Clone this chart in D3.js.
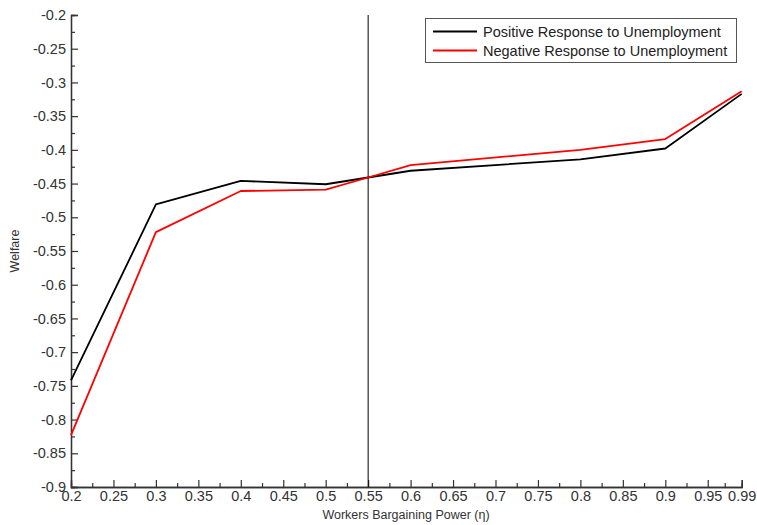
<!DOCTYPE html>
<html><head><meta charset="utf-8">
<script src="https://cdn.jsdelivr.net/npm/d3@7"></script>
<style>body{margin:0;background:#fff}svg{display:block}text{font-family:"Liberation Sans",Arial,sans-serif}</style>
</head><body>
<svg id="c" width="757" height="525"></svg>
<script>
const xVals = [0.2, 0.3, 0.4, 0.5, 0.55, 0.6, 0.8, 0.9, 0.99];
const positiveResp = [-0.742, -0.481, -0.446, -0.451, -0.441, -0.431, -0.414, -0.398, -0.317];
const negativeResp = [-0.823, -0.522, -0.461, -0.459, -0.441, -0.4225, -0.400, -0.384, -0.313];
const xTicks = [0.2,0.25,0.3,0.35,0.4,0.45,0.5,0.55,0.6,0.65,0.7,0.75,0.8,0.85,0.9,0.95,0.99];
const xMinor = [0.225,0.275,0.325,0.375,0.425,0.475,0.525,0.575,0.625,0.675,0.725,0.775,0.825,0.875,0.925,0.97];
const yTicks = [-0.9,-0.85,-0.8,-0.75,-0.7,-0.65,-0.6,-0.55,-0.5,-0.45,-0.4,-0.35,-0.3,-0.25,-0.2];
const yMinor = [-0.875,-0.825,-0.775,-0.725,-0.675,-0.625,-0.575,-0.525,-0.475,-0.425,-0.375,-0.325,-0.275,-0.225];
const seriesNames = ["Positive Response to Unemployment","Negative Response to Unemployment"];
const seriesColors = ["#000000","#ff0000"];
const refLine = 0.55;

const svg = d3.select("#c");
const x = d3.scaleLinear().domain([0.2,0.99]).range([71,741.7]);
const y = d3.scaleLinear().domain([-0.9,-0.2]).range([487,15]);
const axCol = "#333";

// minor ticks
const gx = svg.append("g").attr("transform","translate(0,487)");
gx.call(d3.axisBottom(x).tickValues(xMinor).tickSize(-4).tickFormat(""));
const gy = svg.append("g").attr("transform","translate(71,0)");
gy.call(d3.axisLeft(y).tickValues(yMinor).tickSize(-4).tickFormat(""));
// major ticks
const gx2 = svg.append("g").attr("transform","translate(0,487)");
gx2.call(d3.axisBottom(x).tickValues(xTicks).tickSize(-7).tickPadding(4).tickFormat(d=>String(d)));
const gy2 = svg.append("g").attr("transform","translate(71,0)");
gy2.call(d3.axisLeft(y).tickValues(yTicks).tickSize(-7).tickPadding(5).tickFormat(d=>String(d)));
svg.selectAll(".domain").attr("stroke",axCol).attr("stroke-width",1.3);
svg.selectAll(".tick line").attr("stroke",axCol).attr("stroke-width",1.2);
svg.selectAll(".tick text").attr("fill","#333").attr("font-size",14.5).attr("font-family","Liberation Sans, Arial, sans-serif");

// reference line
svg.append("line").attr("x1",x(refLine)).attr("x2",x(refLine)).attr("y1",y(-0.2)).attr("y2",y(-0.9))
  .attr("stroke","#000").attr("stroke-width",1);

// series
const line = d3.line().x((d,i)=>x(xVals[i])).y(d=>y(d));
[positiveResp, negativeResp].forEach((s,k)=>{
  svg.append("path").datum(s).attr("d",line).attr("fill","none")
    .attr("stroke",seriesColors[k]).attr("stroke-width",1.8).attr("stroke-linejoin","round");
});

// axis labels
svg.append("text").attr("x",406).attr("y",519).attr("text-anchor","middle").attr("font-size",12.5).attr("fill","#333")
  .text("Workers Bargaining Power (η)");
svg.append("text").attr("transform","translate(19,251) rotate(-90)").attr("text-anchor","middle").attr("font-size",12.5).attr("fill","#333")
  .text("Welfare");

// legend
const lg = svg.append("g");
lg.append("rect").attr("x",425.5).attr("y",18.5).attr("width",311).attr("height",44)
  .attr("fill","#fff").attr("stroke","#555").attr("stroke-width",1);
seriesNames.forEach((n,i)=>{
  const yy = 31.5 + i*19;
  lg.append("line").attr("x1",433).attr("x2",477).attr("y1",yy).attr("y2",yy).attr("stroke",seriesColors[i]).attr("stroke-width",1.8);
  lg.append("text").attr("x",483).attr("y",yy).attr("dy","0.35em").attr("font-size",14.5).attr("fill","#222").text(n);
});
</script>
</body></html>
